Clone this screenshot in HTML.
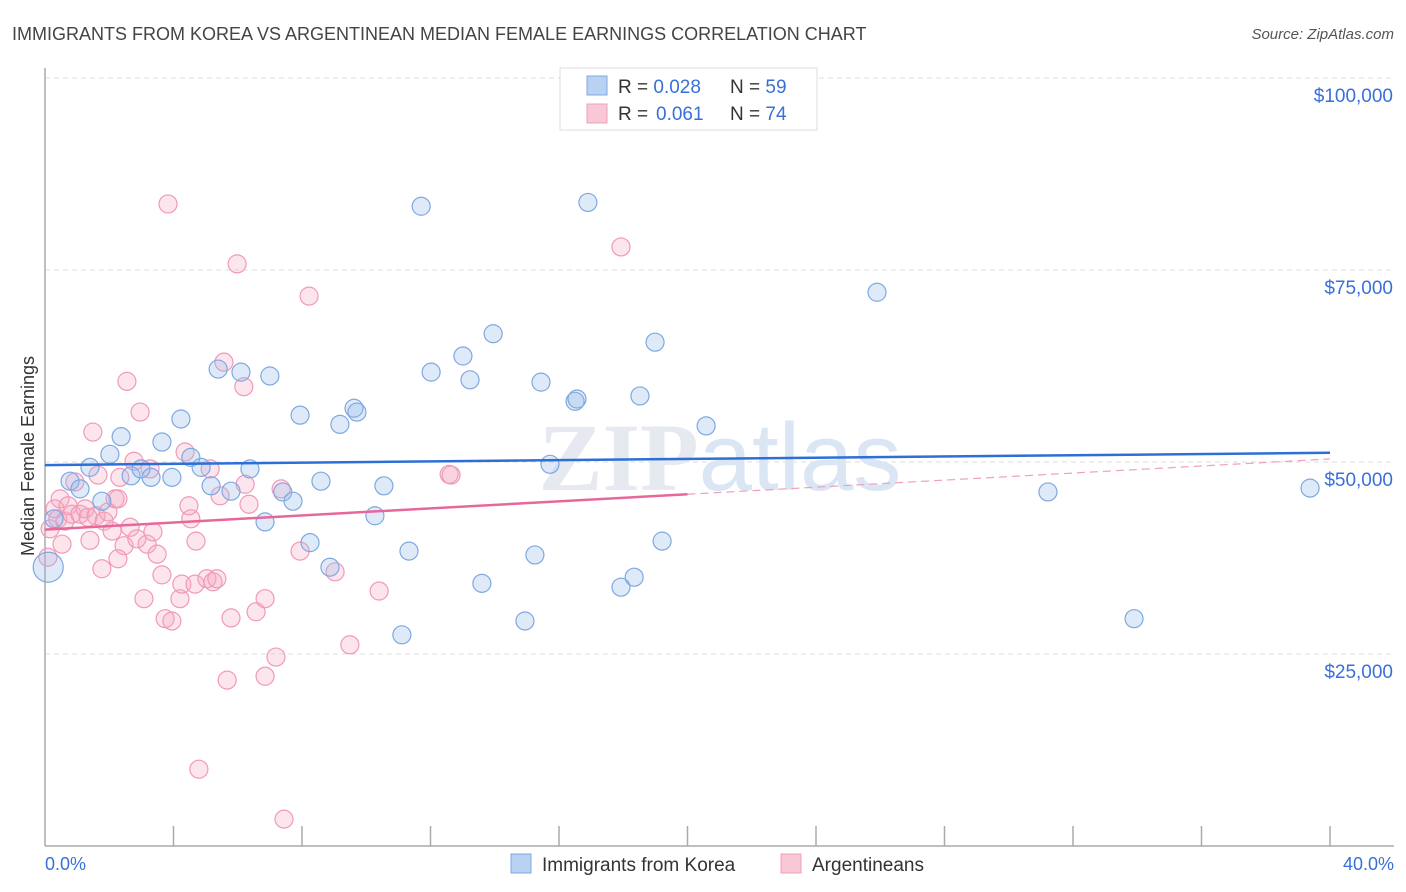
<!DOCTYPE html>
<html><head><meta charset="utf-8"><style>
body{margin:0;background:#fff;width:1406px;height:892px;overflow:hidden;font-family:"Liberation Sans",sans-serif}
svg{display:block}
</style></head><body>
<svg id="chart" width="1406" height="892" xmlns="http://www.w3.org/2000/svg">
<text x="12" y="40" font-size="18" fill="#444">IMMIGRANTS FROM KOREA VS ARGENTINEAN MEDIAN FEMALE EARNINGS CORRELATION CHART</text>
<text x="1394" y="39" font-size="15" fill="#555" font-style="italic" text-anchor="end">Source: ZipAtlas.com</text>
<g id="grid"></g>
<text x="720" y="490" font-size="96" fill="#e6eaf0" text-anchor="middle" font-family="Liberation Serif" font-weight="bold">ZIP<tspan fill="#dbe6f5" font-family="Liberation Sans" font-weight="normal">atlas</tspan></text>
<g id="axes"></g>
<g id="pts"></g>
<g id="lines"></g>
<text transform="translate(34,456) rotate(-90)" font-size="18" fill="#333" text-anchor="middle">Median Female Earnings</text>
<text x="45" y="870" font-size="18" fill="#3a6fd8">0.0%</text>
<text x="1394" y="870" font-size="18" fill="#3a6fd8" text-anchor="end">40.0%</text>
<g>
<rect x="560" y="68" width="257" height="62" fill="#fff" stroke="#ddd"/>
<rect x="587" y="76" width="20" height="19" fill="#b9d2f3" stroke="#7fa8e0"/>
<rect x="587" y="104" width="20" height="19" fill="#f9c8d6" stroke="#f0a0bb"/>
<text x="618" y="93" font-size="19" fill="#333">R = <tspan fill="#3a6fd8">0.028</tspan><tspan x="730">N = </tspan><tspan fill="#3a6fd8">59</tspan></text>
<text x="618" y="120" font-size="19" fill="#333">R = <tspan x="656" fill="#3a6fd8">0.061</tspan><tspan x="730">N = </tspan><tspan fill="#3a6fd8">74</tspan></text>
</g>
<g><rect x="511" y="854" width="20" height="19" fill="#b9d2f3" stroke="#7fa8e0"/><text x="542" y="871" font-size="19" fill="#333">Immigrants from Korea</text></g>
<g><rect x="781" y="854" width="20" height="19" fill="#f9c8d6" stroke="#f0a0bb"/><text x="812" y="871" font-size="19" fill="#333">Argentineans</text></g>
</svg>
<script>
const yTicks=[25000,50000,75000,100000];
const yTickLabels=["$25,000","$50,000","$75,000","$100,000"];
const koreaX=[0.1,0.28,0.78,1.09,1.4,1.77,2.02,2.37,2.68,2.99,3.3,3.64,3.95,4.23,4.54,4.86,5.17,5.39,5.79,6.1,6.38,6.85,7.0,7.4,7.72,7.94,8.25,8.59,8.87,9.18,9.62,9.71,10.27,10.55,11.11,11.33,11.71,12.02,13.01,13.23,13.6,13.95,14.94,15.25,15.44,15.72,16.5,16.56,16.9,17.93,18.34,18.52,18.99,19.21,20.58,25.9,31.22,33.9,39.38];
const koreaY=[36.3,42.6,47.5,46.5,49.3,44.9,51.0,53.3,48.2,49.1,48.0,52.6,48.0,55.6,50.6,49.3,46.9,62.1,46.2,61.7,49.1,42.2,61.2,46.1,44.9,56.1,39.5,47.5,36.3,54.9,57.0,56.5,43.0,46.9,27.5,38.4,83.3,61.7,63.8,60.7,34.2,66.7,29.3,37.9,60.4,49.7,57.9,58.2,83.8,33.7,35.0,58.6,65.6,39.7,54.7,72.1,46.1,29.6,46.6];
const argX=[0.09,0.16,0.31,0.4,0.47,0.62,0.72,0.84,0.93,1.09,1.25,1.34,1.4,1.49,1.59,1.65,1.77,1.84,1.96,2.09,2.18,2.27,2.33,2.46,2.55,2.65,2.77,2.86,2.96,3.08,3.18,3.27,3.36,3.49,3.64,3.74,3.83,3.95,4.2,4.26,4.36,4.48,4.54,4.67,4.7,4.79,5.04,5.23,5.35,5.45,5.57,5.67,5.79,5.98,6.19,6.23,6.35,6.57,6.85,7.19,7.35,7.44,7.94,8.22,9.03,9.49,10.4,12.58,12.64,17.93,0.53,2.27,5.14,6.85];
const argY=[37.6,41.3,43.9,42.6,45.2,42.3,44.3,43.2,47.4,43.2,43.9,42.8,39.8,53.9,43.0,48.3,36.1,42.3,43.5,41.0,45.2,45.2,48.0,39.1,60.5,41.5,50.1,40.0,56.5,32.2,39.3,49.1,40.9,38.0,35.3,29.6,83.6,29.3,32.2,34.1,51.3,44.3,42.6,34.1,39.7,10.0,34.8,34.4,34.8,45.6,63.0,21.6,29.7,75.8,59.8,47.1,44.5,30.5,22.1,24.6,46.5,3.5,38.4,71.6,35.7,26.2,33.2,48.4,48.3,78.0,39.3,37.4,49.1,32.2];
const koreaTrend=[[0,49.6],[40,51.2]];
const argTrend=[[0,41.2],[20,45.8],[40,50.4]];
const NS="http://www.w3.org/2000/svg";
const xs=v=>45+v/40*1285;
const ys=v=>846-v*0.00768;
function mk(tag,attrs,parent){const e=document.createElementNS(NS,tag);for(const k in attrs)e.setAttribute(k,attrs[k]);parent.appendChild(e);return e;}
const grid=document.getElementById('grid');
yTicks.forEach((t,i)=>{
 const l=mk('line',{x1:45,x2:1394,y1:ys(t),y2:ys(t),stroke:'#ddd','stroke-dasharray':'5,4'},grid);
 
 
 const tx=mk('text',{x:1393,y:ys(t)+24,'font-size':19,fill:'#3a6fd8','text-anchor':'end'},grid);
 tx.textContent=yTickLabels[i];
 
 
});
const ax=document.getElementById('axes');
mk('line',{x1:45,x2:45,y1:68,y2:846,stroke:'#aaa','stroke-width':1.5},ax);
mk('line',{x1:45,x2:1394,y1:846,y2:846,stroke:'#aaa','stroke-width':1.5},ax);
for(let i=1;i<=10;i++){const t=mk('line',{x1:xs(i*4),x2:xs(i*4),y1:826,y2:846,stroke:'#aaa','stroke-width':1.5},ax);
 
 }
const pts=document.getElementById('pts');
argX.forEach((x,i)=>{const c=mk('circle',{cx:xs(x),cy:ys(argY[i]*1000),r:9,fill:'rgba(246,170,195,0.3)',stroke:'#f09ab6','stroke-width':1.2},pts);
 
 });
koreaX.forEach((x,i)=>{const c=mk('circle',{cx:xs(x),cy:ys(koreaY[i]*1000),r:i==0?15:9,fill:'rgba(150,185,235,0.3)',stroke:'#7fa8e0','stroke-width':1.2},pts);
 
 });
const lg=document.getElementById('lines');
const kl=mk('line',{x1:xs(koreaTrend[0][0]),y1:ys(koreaTrend[0][1]*1000),x2:xs(koreaTrend[1][0]),y2:ys(koreaTrend[1][1]*1000),stroke:'#2d6fd6','stroke-width':2.5},lg);


const al=mk('line',{x1:xs(argTrend[0][0]),y1:ys(argTrend[0][1]*1000),x2:xs(argTrend[1][0]),y2:ys(argTrend[1][1]*1000),stroke:'#e8679a','stroke-width':2.5},lg);


const ad=mk('line',{x1:xs(argTrend[1][0]),y1:ys(argTrend[1][1]*1000),x2:xs(argTrend[2][0]),y2:ys(argTrend[2][1]*1000),stroke:'#eea0bd','stroke-width':1.2,'stroke-dasharray':'8,5'},lg);


</script>
</body></html>
